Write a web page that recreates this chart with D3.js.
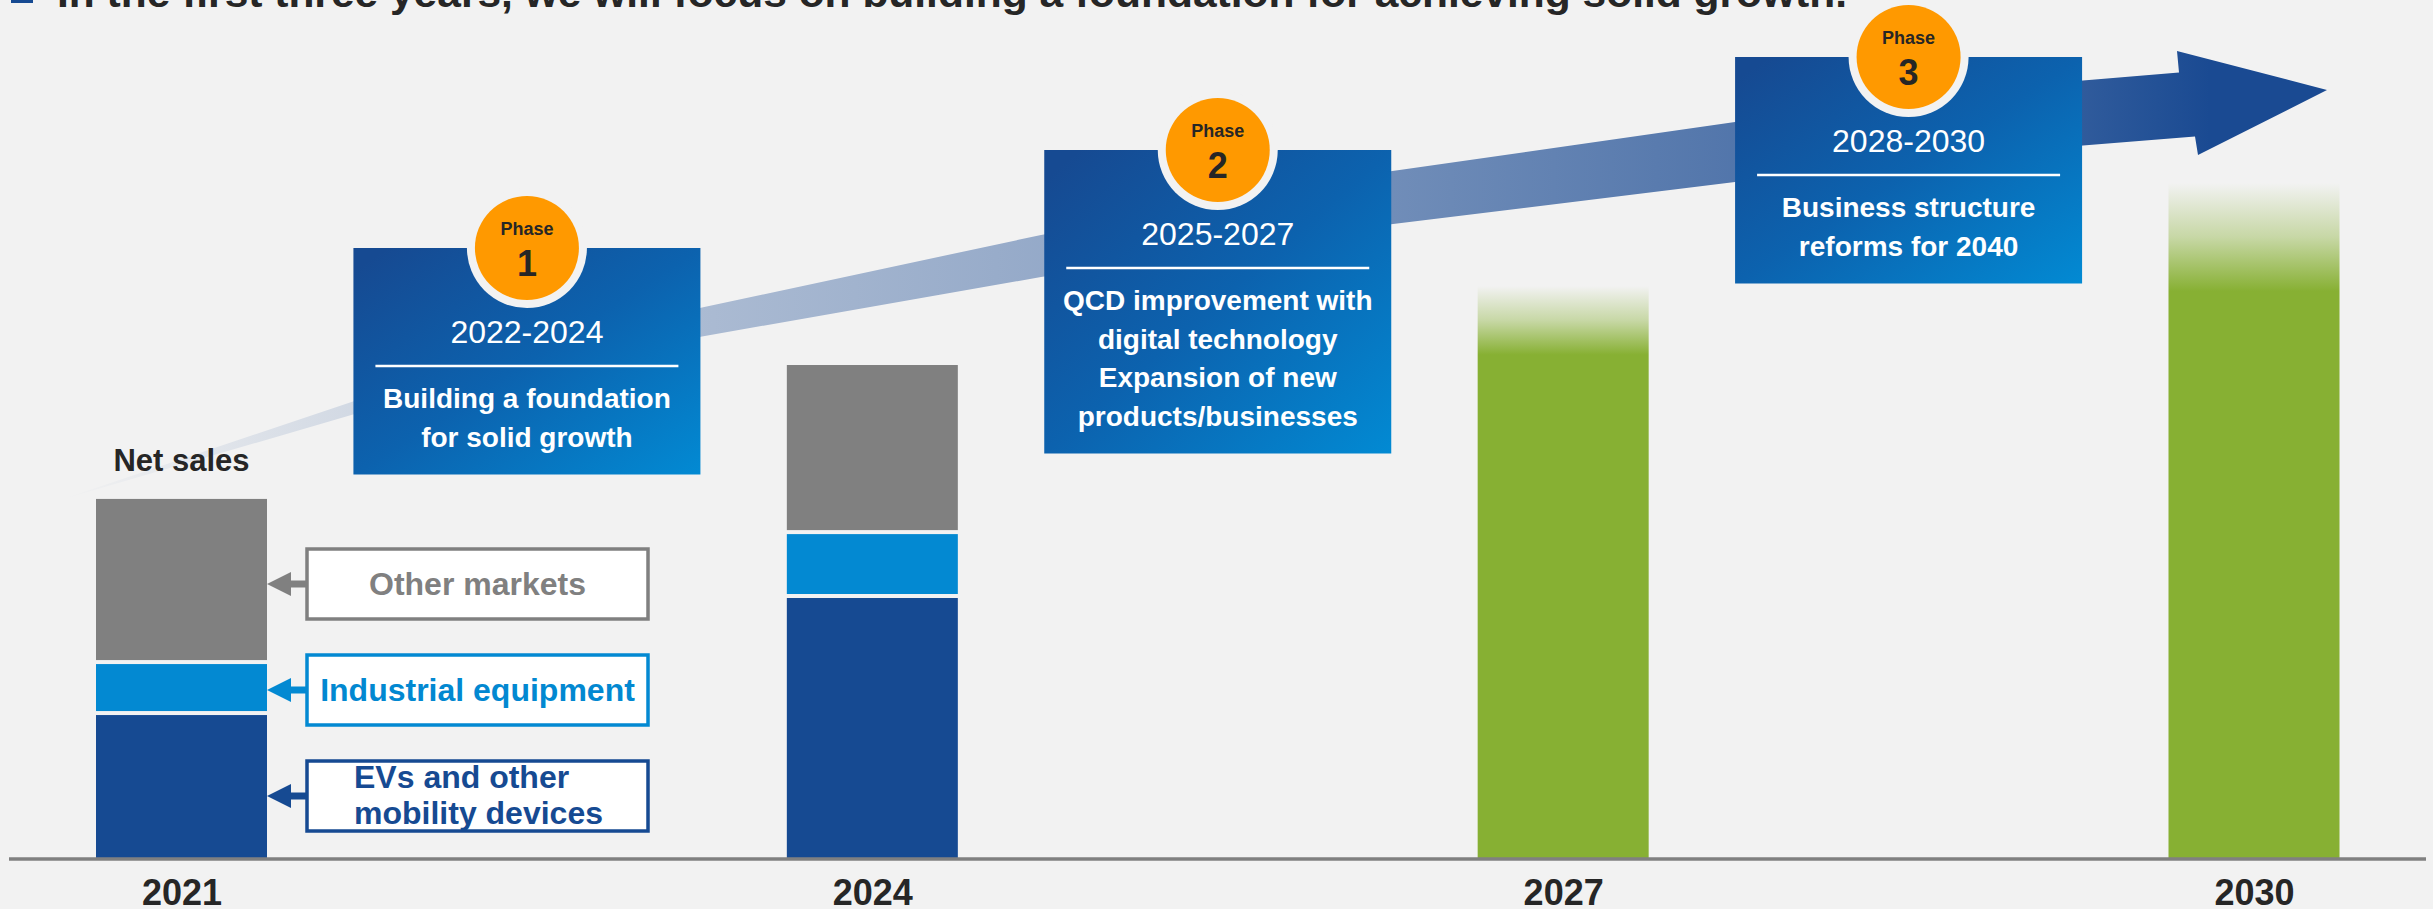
<!DOCTYPE html>
<html>
<head>
<meta charset="utf-8">
<script src="https://cdn.jsdelivr.net/npm/d3@7"></script>
<style>
  html, body { margin: 0; padding: 0; background: #f2f2f2; overflow: hidden; }
  svg { display: block; }
  text { font-family: "Liberation Sans", Arial, Helvetica, sans-serif; }
</style>
</head>
<body>
<script>
// ---------------- DATA ----------------
const categories = ["2021", "2024", "2027", "2030"];
const evValues = [40.1, 72.7, null, null];          // EVs and other mobility devices
const industrialValues = [14.2, 17.8, null, null];  // Industrial equipment
const otherValues = [46.0, 47.1, null, null];       // Other markets
const targetValues = [null, null, 159.6, 188.3];    // Future net sales (green)
const seriesNames = ["EVs and other mobility devices", "Industrial equipment", "Other markets"];
const legendLines = [["EVs and other", "mobility devices"], ["Industrial equipment"], ["Other markets"]];
const phaseNumbers = ["1", "2", "3"];
const phasePeriods = ["2022-2024", "2025-2027", "2028-2030"];
const phaseTexts = [
  ["Building a foundation", "for solid growth"],
  ["QCD improvement with", "digital technology", "Expansion of new", "products/businesses"],
  ["Business structure", "reforms for 2040"]
];
const titleText = "In the first three years, we will focus on building a foundation for achieving solid growth.";
const axisTitle = "Net sales";

// ---------------- LAYOUT ----------------
const W = 2433, H = 909;
const baseY = 859;
const barW = 171;
const phaseTop = [248, 150, 57];
const phaseW = 347;
const colors = {
  bg: "#f2f2f2", ev: "#164a92", ind: "#0389d2", oth: "#808080",
  green: "#87b033", orange: "#ff9900", text: "#262626", axis: "#808080"
};

const svg = d3.select("body").append("svg").attr("width", W).attr("height", H);
const defs = svg.append("defs");
svg.append("rect").attr("width", W).attr("height", H).attr("fill", colors.bg);

const x = d3.scalePoint().domain(categories).range([181.5, 2254]);
const y = d3.scaleLinear().domain([0, 100]).range([baseY, baseY - 359]);

// ---------------- TITLE ----------------
svg.append("rect").attr("x", 11).attr("y", -19).attr("width", 22).attr("height", 22).attr("fill", colors.ev);
svg.append("text").attr("x", 57).attr("y", 7)
  .attr("font-size", 41).attr("font-weight", "bold").attr("fill", colors.text)
  .attr("textLength", 1790).attr("lengthAdjust", "spacingAndGlyphs")
  .text(titleText);

// ---------------- GROWTH ARROW (decorative) ----------------
const arrowPts = [
  [60, 500, 0], [353, 408, 6.5], [702, 322, 14.5], [1041, 256, 21],
  [1389, 198, 26.5], [1735, 152, 30], [2083, 113, 32.5], [2187, 104.5, 32]
];
const arrowAlpha = [[60, 0], [353, 0.15], [702, 0.33], [1041, 0.43], [1389, 0.6], [1735, 0.74], [2083, 0.9], [2210, 1]];
const ag = defs.append("linearGradient").attr("id", "arrowGrad")
  .attr("gradientUnits", "userSpaceOnUse").attr("x1", 60).attr("y1", 0).attr("x2", 2210).attr("y2", 0);
arrowAlpha.forEach(([px, a]) => {
  ag.append("stop").attr("offset", (px - 60) / 2150).attr("stop-color", "#1a4a92").attr("stop-opacity", a);
});
const topEdge = arrowPts.map(p => [p[0], p[1] - p[2]]);
const botEdge = arrowPts.map(p => [p[0], p[1] + p[2]]).reverse();
const head = [[2177, 51], [2327, 90], [2198, 155]];
const shapePts = [...topEdge.slice(0, -1), [2179, 72.5], head[0], head[1], head[2], [2195, 136.5], ...botEdge.slice(1)];
svg.append("path").attr("d", d3.line()(shapePts) + "Z").attr("fill", "url(#arrowGrad)");

// ---------------- STACKED BARS ----------------
const stackRows = categories.map((c, i) => ({ cat: c, ev: evValues[i], ind: industrialValues[i], oth: otherValues[i] }))
  .filter(d => d.ev != null);
const stack = d3.stack().keys(["ev", "ind", "oth"])(stackRows);
const segColor = { ev: colors.ev, ind: colors.ind, oth: colors.oth };
const gap = 4;
svg.append("g").selectAll("g").data(stack).join("g")
  .attr("fill", s => segColor[s.key])
  .selectAll("rect").data(s => s).join("rect")
  .attr("x", d => x(d.data.cat) - barW / 2)
  .attr("width", barW)
  .attr("y", d => y(d[1]))
  .attr("height", d => y(d[0]) - y(d[1]) - (d[0] > 0 ? gap : 0));

// ---------------- TARGET (GREEN) BARS ----------------
const targetRows = categories.map((c, i) => ({ cat: c, v: targetValues[i], i })).filter(d => d.v != null);
targetRows.forEach(d => {
  const g = defs.append("linearGradient").attr("id", "green" + d.i)
    .attr("x1", 0).attr("y1", 0).attr("x2", 0).attr("y2", 1);
  const f = d.i === 3 ? 0.16 : 0.12;
  g.append("stop").attr("offset", 0).attr("stop-color", colors.green).attr("stop-opacity", 0);
  g.append("stop").attr("offset", f * 0.5).attr("stop-color", colors.green).attr("stop-opacity", 0.4);
  g.append("stop").attr("offset", f).attr("stop-color", colors.green).attr("stop-opacity", 1);
  g.append("stop").attr("offset", 1).attr("stop-color", colors.green).attr("stop-opacity", 1);
});
svg.append("g").selectAll("rect").data(targetRows).join("rect")
  .attr("x", d => x(d.cat) - barW / 2)
  .attr("width", barW)
  .attr("y", d => y(d.v))
  .attr("height", d => y(0) - y(d.v))
  .attr("fill", d => `url(#green${d.i})`);

// ---------------- PHASE BOXES ----------------
const pg = defs.append("linearGradient").attr("id", "phaseGrad")
  .attr("x1", 0).attr("y1", 0).attr("x2", 1).attr("y2", 1);
pg.append("stop").attr("offset", 0.05).attr("stop-color", "#164a92");
pg.append("stop").attr("offset", 0.5).attr("stop-color", "#0c62ae");
pg.append("stop").attr("offset", 1).attr("stop-color", "#028ad3");

phaseNumbers.forEach((num, i) => {
  const cx = (x(categories[i]) + x(categories[i + 1])) / 2;
  const T = phaseTop[i];
  const lines = phaseTexts[i];
  const h = 160 + 38.5 * (lines.length - 1) + 28;
  const g = svg.append("g");
  g.append("rect").attr("x", cx - phaseW / 2).attr("y", T).attr("width", phaseW).attr("height", h)
    .attr("fill", "url(#phaseGrad)");
  g.append("circle").attr("cx", cx).attr("cy", T).attr("r", 60).attr("fill", colors.bg);
  g.append("circle").attr("cx", cx).attr("cy", T).attr("r", 52).attr("fill", colors.orange);
  g.append("text").attr("x", cx).attr("y", T - 13).attr("text-anchor", "middle")
    .attr("font-size", 18).attr("font-weight", "bold").attr("fill", colors.text).text("Phase");
  g.append("text").attr("x", cx).attr("y", T + 28).attr("text-anchor", "middle")
    .attr("font-size", 36).attr("font-weight", "bold").attr("fill", colors.text).text(num);
  g.append("text").attr("x", cx).attr("y", T + 95).attr("text-anchor", "middle")
    .attr("font-size", 32).attr("fill", "#ffffff").text(phasePeriods[i]);
  g.append("line").attr("x1", cx - phaseW / 2 + 22).attr("x2", cx + phaseW / 2 - 22)
    .attr("y1", T + 118).attr("y2", T + 118).attr("stroke", "#ffffff").attr("stroke-width", 2.5);
  lines.forEach((ln, j) => {
    g.append("text").attr("x", cx).attr("y", T + 160 + 38.5 * j).attr("text-anchor", "middle")
      .attr("font-size", 28).attr("font-weight", "bold").attr("fill", "#ffffff").text(ln);
  });
});

// ---------------- LEGEND CALLOUTS ----------------
const legendColors = [colors.ev, colors.ind, colors.oth];
const legendTextColors = [colors.ev, "#0288d1", colors.oth];
const legendCY = [796, 690, 584];
const barRight = x(categories[0]) + barW / 2;
const boxX = 307, boxW = 341, boxH = 70;
seriesNames.forEach((name, i) => {
  const g = svg.append("g");
  const cy = legendCY[i];
  const c = legendColors[i];
  g.append("rect").attr("x", boxX).attr("y", cy - boxH / 2).attr("width", boxW).attr("height", boxH)
    .attr("fill", "#ffffff").attr("stroke", c).attr("stroke-width", 3.5);
  g.append("rect").attr("x", barRight + 22).attr("y", cy - 3.5).attr("width", boxX - barRight - 22).attr("height", 7).attr("fill", c);
  g.append("path").attr("d", `M${barRight},${cy} L${barRight + 24},${cy - 12} L${barRight + 24},${cy + 12} Z`).attr("fill", c);
  const lines = legendLines[i];
  if (lines.length === 1) {
    g.append("text").attr("x", boxX + boxW / 2).attr("y", cy + 11).attr("text-anchor", "middle")
      .attr("font-size", 32).attr("font-weight", "bold").attr("fill", legendTextColors[i]).text(lines[0]);
  } else {
    lines.forEach((ln, j) => {
      g.append("text").attr("x", 354).attr("y", cy - 8 + 36 * j)
        .attr("font-size", 32).attr("font-weight", "bold").attr("fill", legendTextColors[i]).text(ln);
    });
  }
});

// ---------------- AXIS ----------------
svg.append("line").attr("x1", 9).attr("x2", 2426).attr("y1", baseY).attr("y2", baseY)
  .attr("stroke", colors.axis).attr("stroke-width", 3.3);
const axisG = svg.append("g").attr("transform", `translate(0,${baseY})`)
  .call(d3.axisBottom(x).tickSize(0));
axisG.select(".domain").remove();
axisG.selectAll("text").attr("y", 46).attr("dy", 0)
  .attr("font-size", 36).attr("font-weight", "bold").attr("fill", colors.text)
  .attr("font-family", '"Liberation Sans", Arial, sans-serif');

svg.append("text").attr("x", x(categories[0])).attr("y", 471).attr("text-anchor", "middle")
  .attr("font-size", 31).attr("font-weight", "bold").attr("fill", colors.text).text(axisTitle);
</script>
</body>
</html>
